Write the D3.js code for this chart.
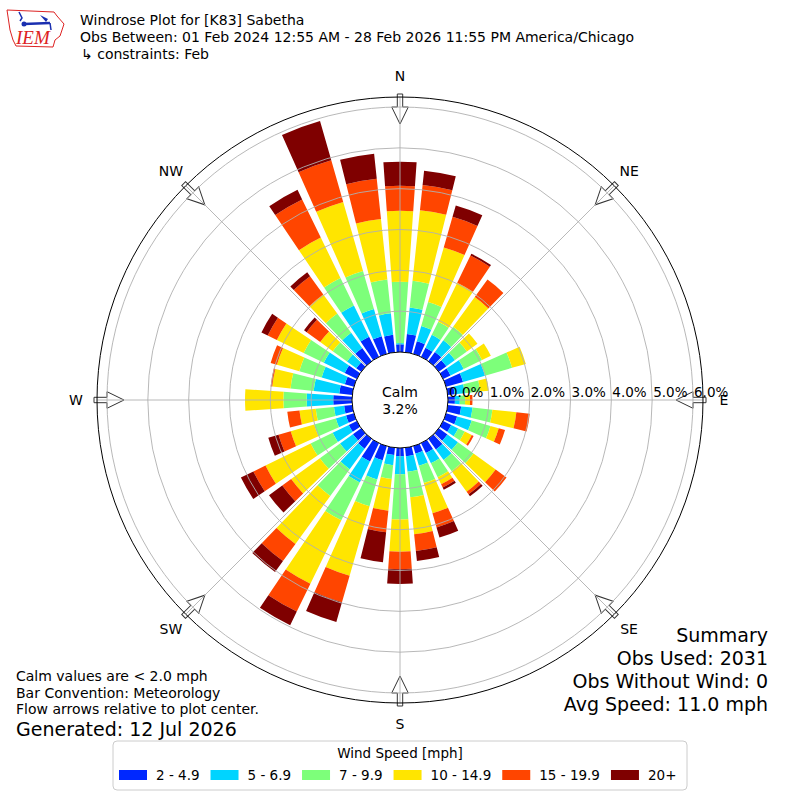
<!DOCTYPE html>
<html>
<head>
<meta charset="utf-8">
<script src="https://cdn.jsdelivr.net/npm/d3@7"></script>
<style>
  body { margin: 0; background: #fff; }
  svg { font-family: "DejaVu Sans", sans-serif; }
</style>
</head>
<body>
<svg id="chart" width="800" height="800"></svg>
<script>
// wind directions (deg, meteorological convention)
var directions = d3.range(0, 360, 10);

// speed bins and their colours
var bins = ["2 - 4.9", "5 - 6.9", "7 - 9.9", "10 - 14.9", "15 - 19.9", "20+"];
var binColors = ["#0028ff", "#00d4ff", "#7dff7a", "#ffe500", "#ff4500", "#7f0000"];

// frequency (%) per direction for each speed bin
var bin1 = [0.19, 0.45, 0.32, 0.25, 0.28, 0.23, 0.20, 0.43, 0.17, 0.17, 0.33, 0.28,
            0.22, 0.26, 0.32, 0.27, 0.19, 0.21, 0.20, 0.18, 0.36, 0.50, 0.30, 0.25,
            0.22, 0.20, 0.20, 0.46, 0.32, 0.23, 0.33, 0.15, 0.40, 0.55, 0.45, 0.43];
var bin2 = [0.03, 0.65, 0.39, 0.35, 0.35, 0.26, 0.36, 0.56, 0.25, 0.12, 0.28, 0.37,
            0.19, 0.32, 0.32, 0.28, 0.31, 0.38, 0.44, 0.25, 0.49, 0.57, 0.62, 0.39,
            0.44, 0.26, 0.25, 0.65, 0.63, 0.59, 0.57, 0.28, 0.46, 0.85, 0.69, 0.53];
var bin3 = [1.50, 0.66, 0.61, 0.36, 0.41, 0.36, 0.50, 0.69, 0.38, 0.13, 0.49, 0.48,
            0.18, 0.47, 0.34, 0.38, 0.44, 0.63, 1.11, 0.34, 0.68, 1.03, 0.81, 0.61,
            0.60, 0.55, 0.45, 0.57, 0.57, 0.57, 0.55, 0.43, 0.58, 0.75, 0.97, 0.83];
var bin4 = [1.74, 1.74, 1.39, 1.06, 0.90, 0.32, 0.24, 0.35, 0.21, 0.12, 0.59, 0.21,
            0.19, 0.67, 0.62, 0.19, 0.77, 0.91, 0.79, 0.78, 1.77, 1.73, 1.45, 0.87,
            1.23, 0.60, 0.40, 0.94, 0.45, 0.57, 0.73, 0.38, 0.58, 1.10, 1.76, 1.49];
var bin5 = [0.61, 0.62, 0.78, 0.74, 0.53, 0.00, 0.00, 0.00, 0.00, 0.06, 0.33, 0.16,
            0.05, 0.33, 0.08, 0.09, 0.36, 0.41, 0.43, 0.53, 0.68, 0.76, 0.52, 0.27,
            0.33, 0.31, 0.30, 0.00, 0.04, 0.16, 0.25, 0.41, 0.55, 1.04, 1.06, 0.99];
var bin6 = [0.59, 0.35, 0.29, 0.05, 0.00, 0.00, 0.00, 0.00, 0.00, 0.00, 0.00, 0.00,
            0.00, 0.00, 0.06, 0.06, 0.26, 0.25, 0.36, 0.74, 0.50, 0.37, 0.33, 0.40,
            0.34, 0.26, 0.00, 0.00, 0.00, 0.00, 0.17, 0.08, 0.12, 0.26, 1.00, 0.62];
var series = [bin1, bin2, bin3, bin4, bin5, bin6];

var ringTicks = [0, 1, 2, 3, 4, 5, 6];
var compass = [["N", 0], ["NE", 45], ["E", 90], ["SE", 135], ["S", 180], ["SW", 225], ["W", 270], ["NW", 315]];

var calmText = "3.2%";
var summaryLines = ["Summary", "Obs Used: 2031", "Obs Without Wind: 0", "Avg Speed: 11.0 mph"];
var noteLines = ["Calm values are < 2.0 mph", "Bar Convention: Meteorology", "Flow arrows relative to plot center."];

var svg = d3.select("#chart");
var cx = 400, cy = 400, outerR = 303, barWidth = 8;
var rad = function(deg) { return deg * Math.PI / 180; };

var r = d3.scaleLinear().domain([0, 6]).range([48, 293]);

// build rows for d3.stack
var rows = directions.map(function(dir, i) {
  var row = { dir: dir };
  bins.forEach(function(b, j) { row[b] = series[j][i]; });
  return row;
});
var stacked = d3.stack().keys(bins)(rows);

var g = svg.append("g").attr("transform", "translate(" + cx + "," + cy + ")");

// flow arrows at the compass points
var arrowPts = [[-2.7, -306], [2.7, -306], [2.7, -293], [8.3, -293], [0, -276], [-8.3, -293], [-2.7, -293]];
g.selectAll(".arrow").data(compass).enter().append("polygon")
    .attr("class", "arrow")
    .attr("points", arrowPts.map(function(p) { return p.join(","); }).join(" "))
    .attr("transform", function(d) { return "rotate(" + d[1] + ")"; })
    .attr("fill", "#fff")
    .attr("stroke", "#333")
    .attr("stroke-width", 1);

// stacked bars
var arc = d3.arc();
var layers = g.selectAll(".layer").data(stacked).enter().append("g")
    .attr("class", "layer")
    .attr("fill", function(d, i) { return binColors[i]; });

layers.selectAll("path")
    .data(function(d) { return d.filter(function(s) { return s[1] - s[0] > 0.001; }); })
    .enter().append("path")
    .attr("d", function(s) {
      return arc({
        innerRadius: r(s[0]),
        outerRadius: r(s[1]),
        startAngle: rad(s.data.dir - barWidth / 2),
        endAngle: rad(s.data.dir + barWidth / 2)
      });
    });

// grid: rings and spokes (drawn over bars)
g.selectAll(".ring").data(ringTicks.slice(1)).enter().append("circle")
    .attr("class", "ring")
    .attr("r", function(d) { return r(d); })
    .attr("fill", "none")
    .attr("stroke", "#b0b0b0")
    .attr("stroke-width", 0.9);

g.selectAll(".spoke").data(compass).enter().append("line")
    .attr("class", "spoke")
    .attr("x1", function(d) { return r(0) * Math.sin(rad(d[1])); })
    .attr("y1", function(d) { return -r(0) * Math.cos(rad(d[1])); })
    .attr("x2", function(d) { return outerR * Math.sin(rad(d[1])); })
    .attr("y2", function(d) { return -outerR * Math.cos(rad(d[1])); })
    .attr("stroke", "#b0b0b0")
    .attr("stroke-width", 0.9);

g.append("circle").attr("r", outerR)
    .attr("fill", "none").attr("stroke", "#000").attr("stroke-width", 1);

// calm circle
g.append("circle").attr("r", r(0))
    .attr("fill", "#fff").attr("stroke", "#000").attr("stroke-width", 1);
g.append("text").attr("x", 0).attr("y", -8).attr("text-anchor", "middle")
    .attr("dominant-baseline", "central").attr("font-size", 14).text("Calm");
g.append("text").attr("x", 0).attr("y", 9).attr("text-anchor", "middle")
    .attr("dominant-baseline", "central").attr("font-size", 14).text(calmText);

// ring labels along east axis
g.selectAll(".rlabel").data(ringTicks).enter().append("text")
    .attr("class", "rlabel")
    .attr("x", function(d) { return r(d) + 1; })
    .attr("y", -3)
    .attr("font-size", 13.5)
    .text(function(d) { return d.toFixed(1) + "%"; });

// compass labels
g.selectAll(".clabel").data(compass).enter().append("text")
    .attr("class", "clabel")
    .attr("x", function(d) { return 324 * Math.sin(rad(d[1])); })
    .attr("y", function(d) { return -324 * Math.cos(rad(d[1])); })
    .attr("text-anchor", "middle")
    .attr("dominant-baseline", "central")
    .attr("font-size", 14)
    .text(function(d) { return d[0]; });

// title block
var title = svg.append("g").attr("font-size", 14);
title.append("text").attr("x", 80).attr("y", 25).text("Windrose Plot for [K83] Sabetha");
title.append("text").attr("x", 80).attr("y", 42).text("Obs Between: 01 Feb 2024 12:55 AM - 28 Feb 2026 11:55 PM America/Chicago");
title.append("text").attr("x", 81).attr("y", 59).text("\u21b3 constraints: Feb");

// IEM logo (simplified)
var logo = svg.append("g");
logo.append("path")
    .attr("d", "M7,10 L54,12 L57,16 L64,24 L62,30 L60,36 L55,40 L53,47 L16,46 L13,40 L10,30 Z")
    .attr("fill", "none").attr("stroke", "#d22").attr("stroke-width", 1);
logo.append("line").attr("x1", 24).attr("y1", 24).attr("x2", 50).attr("y2", 23)
    .attr("stroke", "#1a2fb0").attr("stroke-width", 2.5);
logo.append("circle").attr("cx", 24).attr("cy", 24).attr("r", 2.5).attr("fill", "#1a2fb0");
logo.append("path").attr("d", "M40,15 L48,19 L46,22 Z").attr("fill", "#1a2fb0");
logo.append("path").attr("d", "M19,12 L22,18 L20,21").attr("fill", "none").attr("stroke", "#1a2fb0").attr("stroke-width", 1.5);
logo.append("path").attr("d", "M50,23 L51,30").attr("stroke", "#1a2fb0").attr("stroke-width", 1.5);
logo.append("text").attr("x", 16).attr("y", 44)
    .attr("font-family", "Liberation Serif, serif").attr("font-style", "italic")
    .attr("font-size", 19).attr("fill", "#d22").text("IEM");

// notes bottom left
svg.selectAll(".note").data(noteLines).enter().append("text")
    .attr("class", "note")
    .attr("x", 16)
    .attr("y", function(d, i) { return 681 + i * 16.5; })
    .attr("font-size", 14)
    .text(function(d) { return d; });
svg.append("text").attr("x", 16).attr("y", 736).attr("font-size", 19)
    .text("Generated: 12 Jul 2026");

// summary bottom right
svg.selectAll(".summary").data(summaryLines).enter().append("text")
    .attr("class", "summary")
    .attr("x", 768)
    .attr("y", function(d, i) { return 642 + i * 23; })
    .attr("text-anchor", "end")
    .attr("font-size", 19)
    .text(function(d) { return d; });

// legend
var legend = svg.append("g");
legend.append("rect").attr("x", 113).attr("y", 741).attr("width", 574).attr("height", 49)
    .attr("rx", 4).attr("fill", "#fff").attr("stroke", "#cccccc").attr("stroke-width", 1);
legend.append("text").attr("x", 400).attr("y", 758).attr("text-anchor", "middle")
    .attr("font-size", 13.5).text("Wind Speed [mph]");
var lx = 119;
bins.forEach(function(b, i) {
  legend.append("rect").attr("x", lx).attr("y", 770).attr("width", 28).attr("height", 10)
      .attr("fill", binColors[i]);
  var t = legend.append("text").attr("x", lx + 37).attr("y", 780)
      .attr("font-size", 13.5).text(b);
  lx = lx + 37 + t.node().getComputedTextLength() + 11;
});
</script>
</body>
</html>
